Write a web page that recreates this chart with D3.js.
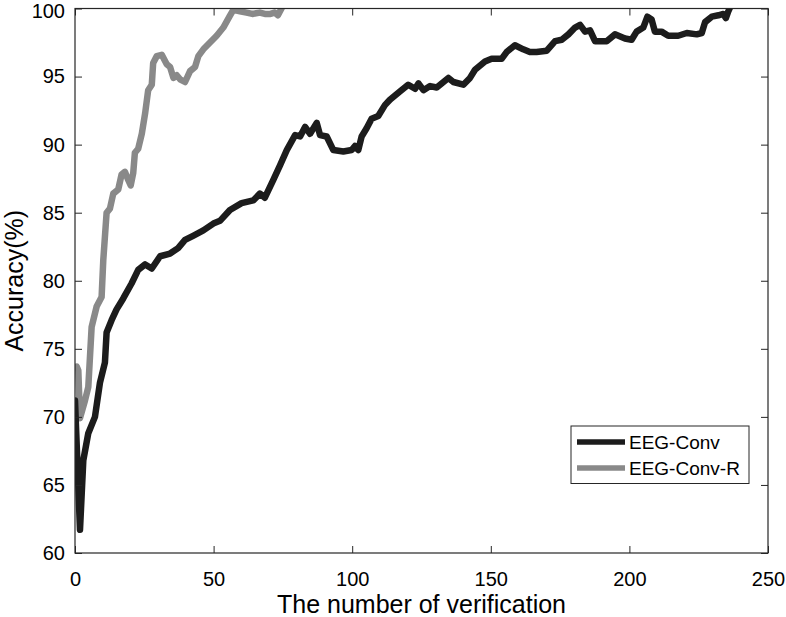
<!DOCTYPE html>
<html>
<head>
<meta charset="utf-8">
<script src="https://cdn.jsdelivr.net/npm/d3@7"></script>
<style>
  body { margin: 0; background: #fff; }
  svg { display: block; font-family: "Liberation Sans", Arial, sans-serif; }
</style>
</head>
<body>
<svg id="chart" width="786" height="617"></svg>
<script>
// EEG-Conv (black)
var convX = [0, 1.8, 3, 4.8, 7.2, 9, 10.8, 11.4, 13.2, 15, 17.4, 20.4, 22.8, 25.3, 27.7, 30.7, 34.3, 37.2, 39.7,
    42.6, 46.3, 49.9, 52.3, 55.9, 60.1, 64.3, 66.7, 68.5, 71.5, 74, 76.4, 79.4, 81.2, 83, 84.8, 87.2, 88.4, 90.8,
    93.2, 96.8, 99.8, 101, 102.2, 103.4, 105.2, 107, 109.4, 111.8, 113.6, 117.2, 120.2, 122.7, 123.9, 125.7,
    128.1, 130.5, 134.7, 136.5, 140.1, 142.5, 144.3, 147.9, 150.3, 153.9, 155.7, 158.7, 161.7, 164.1, 166.5,
    170.2, 173.2, 175.6, 178, 180.4, 182.2, 184, 185.8, 187.6, 188.8, 191.8, 194.8, 198.4, 200.8, 202.6, 205,
    206.5, 208, 209.2, 211.6, 214, 217.6, 220.7, 224.3, 226.1, 227.3, 229.7, 232.1, 233.9, 234.8, 235.7, 237];
var convAcc = [71.2, 61.7, 66.8, 68.8, 70.0, 72.5, 74.0, 76.2, 77.1, 77.9, 78.7, 79.8, 80.8, 81.2, 80.9, 81.8, 82.0,
    82.4, 83.0, 83.3, 83.7, 84.2, 84.4, 85.2, 85.7, 85.9, 86.4, 86.1, 87.4, 88.5, 89.6, 90.7, 90.6, 91.3, 90.8,
    91.6, 90.7, 90.6, 89.6, 89.5, 89.6, 89.9, 89.6, 90.6, 91.2, 91.9, 92.1, 92.9, 93.3, 93.9, 94.4, 94.1, 94.5,
    94.0, 94.3, 94.2, 94.9, 94.6, 94.4, 94.9, 95.5, 96.1, 96.3, 96.3, 96.8, 97.3, 97.0, 96.8, 96.8, 96.9, 97.6,
    97.7, 98.1, 98.6, 98.8, 98.3, 98.4, 97.6, 97.6, 97.6, 98.1, 97.8, 97.7, 98.3, 98.6, 99.4, 99.2, 98.3, 98.3,
    98.0, 98.0, 98.2, 98.1, 98.2, 99.0, 99.4, 99.5, 99.6, 99.3, 99.8, 100.4];

// EEG-Conv-R (gray)
var convRX = [0.6, 1.2, 1.8, 3.6, 4.8, 6, 7.8, 9.6, 10.2, 11.4, 12.6, 13.8, 15.6, 16.8, 18, 19.2, 20.1, 21, 21.6,
    22.8, 24.1, 25.3, 26.4, 27.7, 28.2, 29.5, 31.3, 33.1, 34.3, 35.5, 36.7, 37.9, 39.7, 41.5, 43.3, 44.5, 46.3,
    48.7, 51.1, 53.5, 55.7, 57.1, 59.5, 61.9, 64, 66.7, 68.5, 70.5, 72, 73.2, 75];
var convRAcc = [73.7, 73.4, 69.9, 71.2, 72.2, 76.6, 78.1, 78.8, 81.5, 85.0, 85.3, 86.4, 86.7, 87.8, 88.0, 87.4,
    87.0, 87.9, 89.4, 89.7, 90.8, 92.3, 94.0, 94.4, 96.0, 96.5, 96.6, 95.9, 95.7, 94.9, 95.1, 94.8, 94.6, 95.4,
    95.7, 96.5, 97.0, 97.5, 98.0, 98.6, 99.4, 99.9, 99.8, 99.7, 99.6, 99.7, 99.6, 99.6, 99.7, 99.5, 100.2];

var xTicks = [0, 50, 100, 150, 200, 250];
var yTicks = [60, 65, 70, 75, 80, 85, 90, 95, 100];
var seriesNames = ['EEG-Conv', 'EEG-Conv-R'];
var seriesColors = ['#1c1c1c', '#898989'];

var LEFT = 75, RIGHT = 768, TOP = 8.5, BOTTOM = 553;
var AXIS_COLOR = '#262626';

var svg = d3.select('#chart');

var x = d3.scaleLinear().domain([0, 250]).range([LEFT, RIGHT]);
var y = d3.scaleLinear().domain([60, 100]).range([BOTTOM, TOP]);

svg.append('defs').append('clipPath').attr('id', 'plotclip')
    .append('rect')
    .attr('x', LEFT).attr('y', TOP)
    .attr('width', RIGHT - LEFT).attr('height', BOTTOM - TOP);

// lines
var line = d3.line()
    .x(function(d) { return x(d[0]); })
    .y(function(d) { return y(d[1]); });

var series = [
    d3.zip(convX, convAcc),
    d3.zip(convRX, convRAcc)
];

var plot = svg.append('g').attr('clip-path', 'url(#plotclip)');
// gray first, black on top
[1, 0].forEach(function(i) {
    plot.append('path')
        .datum(series[i])
        .attr('d', line)
        .style('fill', 'none')
        .style('stroke', seriesColors[i])
        .style('stroke-width', 6.5)
        .style('stroke-linejoin', 'round')
        .style('stroke-linecap', 'round');
});

// axes (ticks pointing inward, like matlab)
var styleAxis = function(g) {
    g.select('.domain').remove();
    g.selectAll('line').style('stroke', AXIS_COLOR);
    g.selectAll('text')
        .style('font-size', '20px')
        .style('fill', '#000')
        .style('font-family', '"Liberation Sans", Arial, sans-serif');
};

svg.append('g')
    .attr('transform', 'translate(0,' + BOTTOM + ')')
    .call(d3.axisBottom(x).tickValues(xTicks).tickSizeInner(-7).tickSizeOuter(0).tickPadding(19))
    .call(styleAxis);

svg.append('g')
    .attr('transform', 'translate(0,' + TOP + ')')
    .call(d3.axisTop(x).tickValues(xTicks).tickSizeInner(-7).tickSizeOuter(0).tickFormat(''))
    .call(styleAxis);

var yAxisG = svg.append('g')
    .attr('transform', 'translate(' + LEFT + ',0)')
    .call(d3.axisLeft(y).tickValues(yTicks).tickSizeInner(-7).tickSizeOuter(0).tickPadding(10))
    .call(styleAxis);
// keep the top label inside the page
yAxisG.selectAll('.tick')
    .filter(function(d) { return d === 100; })
    .select('text')
    .attr('dy', '0.45em');

svg.append('g')
    .attr('transform', 'translate(' + RIGHT + ',0)')
    .call(d3.axisRight(y).tickValues(yTicks).tickSizeInner(-7).tickSizeOuter(0).tickFormat(''))
    .call(styleAxis);

// frame
svg.append('rect')
    .attr('x', LEFT).attr('y', TOP)
    .attr('width', RIGHT - LEFT).attr('height', BOTTOM - TOP)
    .style('fill', 'none')
    .style('stroke', AXIS_COLOR)
    .style('stroke-width', 1.2);

// axis titles
svg.append('text')
    .attr('x', (LEFT + RIGHT) / 2)
    .attr('y', 613)
    .style('text-anchor', 'middle')
    .style('font-size', '25px')
    .text('The number of verification');

svg.append('text')
    .attr('transform', 'translate(23,' + ((TOP + BOTTOM) / 2) + ') rotate(-90)')
    .style('text-anchor', 'middle')
    .style('font-size', '25px')
    .text('Accuracy(%)');

// legend
var legend = svg.append('g').attr('transform', 'translate(571,426)');
legend.append('rect')
    .attr('width', 178).attr('height', 57.5)
    .style('fill', '#fff')
    .style('stroke', AXIS_COLOR)
    .style('stroke-width', 1);

seriesNames.forEach(function(name, i) {
    var ly = 16 + i * 26;
    legend.append('line')
        .attr('x1', 6).attr('x2', 54)
        .attr('y1', ly).attr('y2', ly)
        .style('stroke', seriesColors[i])
        .style('stroke-width', 5.5);
    legend.append('text')
        .attr('x', 58).attr('y', ly + 7)
        .style('font-size', '19px')
        .text(name);
});
</script>
</body>
</html>
